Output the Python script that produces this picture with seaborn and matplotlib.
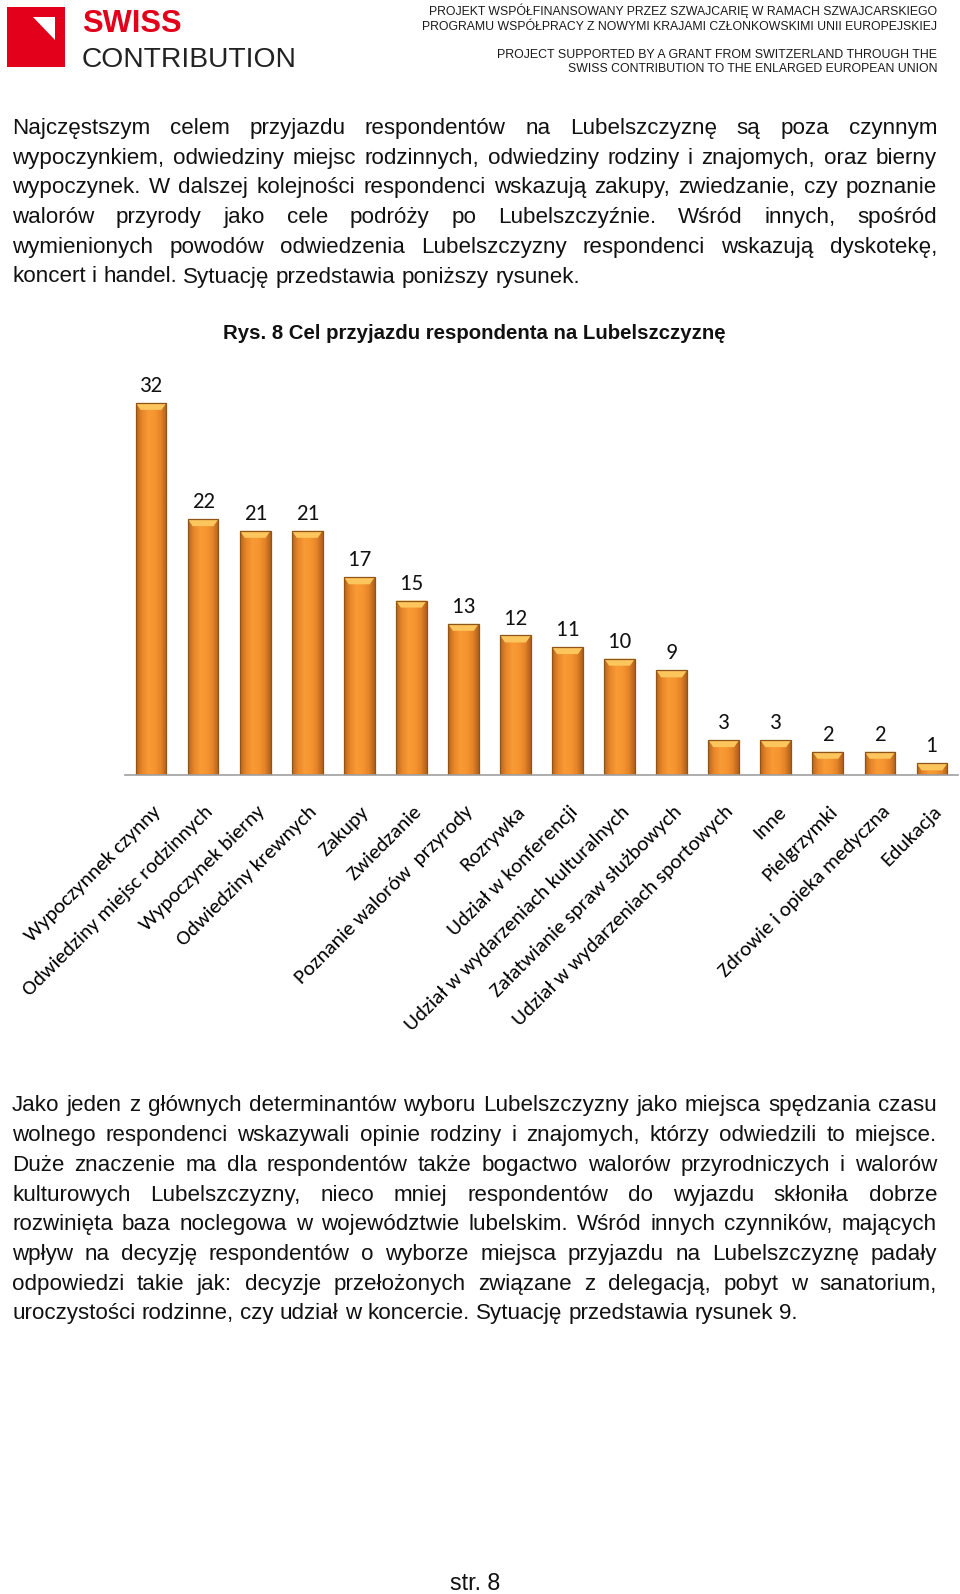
import numpy as np
import pandas as pd
import matplotlib
matplotlib.use("Agg")
import matplotlib.pyplot as plt
import seaborn as sns
from matplotlib import font_manager
from matplotlib.transforms import Affine2D, ScaledTranslation
from matplotlib.patches import Rectangle, Polygon
from matplotlib.colors import LinearSegmentedColormap

# ---------------- data ----------------
categories = [
    "Wypoczynnek czynny", "Odwiedziny miejsc rodzinnych", "Wypoczynek bierny",
    "Odwiedziny krewnych", "Zakupy", "Zwiedzanie", "Poznanie walorów  przyrody",
    "Rozrywka", "Udział w konferencji", "Udział w wydarzeniach kulturalnych",
    "Załatwianie spraw służbowych", "Udział w wydarzeniach sportowych", "Inne",
    "Pielgrzymki", "Zdrowie i opieka medyczna", "Edukacja",
]
values = [32, 22, 21, 21, 17, 15, 13, 12, 11, 10, 9, 3, 3, 2, 2, 1]

chart_title = "Rys. 8 Cel przyjazdu respondenta na Lubelszczyznę"

header_lines = [
    "PROJEKT WSPÓŁFINANSOWANY PRZEZ SZWAJCARIĘ W RAMACH SZWAJCARSKIEGO",
    "PROGRAMU WSPÓŁPRACY Z NOWYMI KRAJAMI CZŁONKOWSKIMI UNII EUROPEJSKIEJ",
    "PROJECT SUPPORTED BY A GRANT FROM SWITZERLAND THROUGH THE",
    "SWISS CONTRIBUTION TO THE ENLARGED EUROPEAN UNION",
]

para1 = [
    "Najczęstszym celem przyjazdu respondentów na Lubelszczyznę są poza czynnym",
    "wypoczynkiem, odwiedziny miejsc rodzinnych, odwiedziny rodziny i znajomych, oraz bierny",
    "wypoczynek. W dalszej kolejności respondenci wskazują zakupy, zwiedzanie, czy poznanie",
    "walorów przyrody jako cele podróży po Lubelszczyźnie. Wśród innych, spośród",
    "wymienionych powodów odwiedzenia Lubelszczyzny respondenci wskazują dyskotekę,",
    "koncert i handel. Sytuację przedstawia poniższy rysunek.",
]
para2 = [
    "Jako jeden z głównych determinantów wyboru Lubelszczyzny jako miejsca spędzania czasu",
    "wolnego respondenci wskazywali opinie rodziny i znajomych, którzy odwiedzili to miejsce.",
    "Duże znaczenie ma dla respondentów także bogactwo walorów przyrodniczych i walorów",
    "kulturowych Lubelszczyzny, nieco mniej respondentów do wyjazdu skłoniła dobrze",
    "rozwinięta baza noclegowa w województwie lubelskim. Wśród innych czynników, mających",
    "wpływ na decyzję respondentów o wyborze miejsca przyjazdu na Lubelszczyznę padały",
    "odpowiedzi takie jak: decyzje przełożonych związane z delegacją, pobyt w sanatorium,",
    "uroczystości rodzinne, czy udział w koncercie. Sytuację przedstawia rysunek 9.",
]
footer = "str. 8"

# ---------------- setup ----------------
sns.set_theme(style="white")
plt.rcParams["font.family"] = ["Liberation Sans", "DejaVu Sans"]

available = {f.name for f in font_manager.fontManager.ttflist}


def pick(*names):
    for n in names:
        if n in available:
            return n
    return "DejaVu Sans"


NARROW = pick("Liberation Sans Narrow", "Liberation Sans")
ARIAL = pick("Liberation Sans", "DejaVu Sans")
CAL = pick("Carlito", "Lato", "Open Sans")

W, H = 960, 1594
fig = plt.figure(figsize=(W / 100, H / 100), dpi=100)
fig.patch.set_facecolor("white")
renderer = fig.canvas.get_renderer()
px = Affine2D().scale(1 / W, -1 / H).translate(0, 1) + fig.transFigure


def text_w(s, size, **kw):
    t = fig.text(0, 0, s, fontsize=size, **kw)
    w = t.get_window_extent(renderer).width
    t.remove()
    return w


def fit(s, target, **kw):
    return 20 * target / text_w(s, 20, **kw)


# ---------------- header ----------------
fig.patches.append(Rectangle((7, 7), 58, 60, transform=px, facecolor="#E2001A",
                             edgecolor="none", figure=fig))
fig.patches.append(Polygon([(33, 17), (55, 17), (55, 40)], closed=True, transform=px,
                           facecolor="white", edgecolor="none", figure=fig))
fs = fit("SWISS", 100, family=ARIAL, weight="bold")
fig.text(82, 32, "SWISS", transform=px, fontsize=fs, family=ARIAL, weight="bold",
         color="#E2001A", va="baseline")
fs = fit("CONTRIBUTION", 215, family=NARROW)
fig.text(82, 67, "CONTRIBUTION", transform=px, fontsize=fs, family=NARROW,
         color="#222222", va="baseline")

hdr_w = [510, 514, 439, 371]
hdr_y = [15.5, 30, 57.5, 72.5]
for s, w_, y_ in zip(header_lines, hdr_w, hdr_y):
    fs = fit(s, w_, family=NARROW)
    fig.text(937, y_, s, transform=px, fontsize=fs, family=NARROW, color="#1a1a1a",
             ha="right", va="baseline")

# ---------------- body text ----------------
BODY = fit(para1[-1], 565, family=ARIAL)
space_w = text_w("a a", BODY, family=ARIAL) - text_w("aa", BODY, family=ARIAL)


def justify(line, y, last=False, x0=12, x1=937):
    words = line.split()
    arts = [fig.text(0, y, wd, transform=px, fontsize=BODY, family=ARIAL,
                     color="#111111", va="baseline", ha="left") for wd in words]
    widths = [a.get_window_extent(renderer).width for a in arts]
    gap = space_w if last else (x1 - x0 - sum(widths)) / (len(words) - 1)
    x = x0
    for a, wd in zip(arts, widths):
        a.set_x(x)
        x += wd + gap


LS = 29.7
for i, ln in enumerate(para1):
    justify(ln, 134 + LS * i, last=(i == len(para1) - 1))
for i, ln in enumerate(para2):
    justify(ln, 1111.5 + LS * i, last=(i == len(para2) - 1))

fs = fit(footer, 50, family=ARIAL)
fig.text(475, 1590, footer, transform=px, fontsize=fs, family=ARIAL, color="#111111",
         ha="center", va="baseline")

fs = fit(chart_title, 504, family=ARIAL, weight="bold")
fig.text(474, 339, chart_title, transform=px, fontsize=fs, family=ARIAL, weight="bold",
         color="#111111", ha="center", va="baseline")

# ---------------- chart ----------------
x0p, x1p, basep, topp = 125, 958, 775, 368
ax = fig.add_axes([x0p / W, 1 - basep / H, (x1p - x0p) / W, (basep - topp) / H])
df = pd.DataFrame({"cat": categories, "val": values})
sns.barplot(data=df, x="cat", y="val", color="#F39131", saturation=1, width=0.59,
            ax=ax, zorder=2)

grad = LinearSegmentedColormap.from_list(
    "g", ["#B9651B", "#E9872A", "#F89A36", "#F7962F", "#E5842A", "#B0601A"])
gvals = np.linspace(0, 1, 128).reshape(1, -1)
ppu = (basep - topp) / 35.0
cap_h = 7 / ppu
for p in list(ax.patches):
    bx, bw, bh = p.get_x(), p.get_width(), p.get_height()
    im = ax.imshow(gvals, cmap=grad, extent=[bx, bx + bw, 0, bh], aspect="auto",
                   zorder=2.1, interpolation="bilinear")
    im.set_clip_path(p)
    ch = min(cap_h, bh * 0.6)
    ins = bw * 0.16
    ax.add_patch(Polygon([(bx, bh), (bx + bw, bh), (bx + bw - ins, bh - ch),
                          (bx + ins, bh - ch)], closed=True, facecolor="#FCC65C",
                         edgecolor="none", zorder=2.2))
    ax.add_patch(Rectangle((bx, 0), bw, bh, fill=False, edgecolor="#8E5418",
                           lw=0.9, zorder=2.3))

ax.bar_label(ax.containers[0], padding=5, fontsize=16.5, family=CAL, color="#111111")

TICK = fit("Udział w wydarzeniach sportowych", 303, family=CAL)
off = ScaledTranslation(6 / 100, -33 / 100, fig.dpi_scale_trans)
for i, c in enumerate(categories):
    ax.text(i, 0, c, transform=ax.transData + off, rotation=45, ha="right",
            va="center_baseline", rotation_mode="anchor", fontsize=TICK, family=CAL,
            color="#000000")

ax.set_xlim(-0.5, len(categories) - 0.5)
ax.set_ylim(0, 35)
ax.set_xticks(range(len(categories)))
ax.set_xticklabels([])
ax.set_yticks([])
ax.set_xlabel("")
ax.set_ylabel("")
ax.tick_params(length=0)
for s in ["top", "left", "right"]:
    ax.spines[s].set_visible(False)
ax.spines["bottom"].set_color("#A0A0A0")
ax.spines["bottom"].set_linewidth(1.2)
ax.patch.set_alpha(0)

fig.savefig("out.png", dpi=100, facecolor="white")
